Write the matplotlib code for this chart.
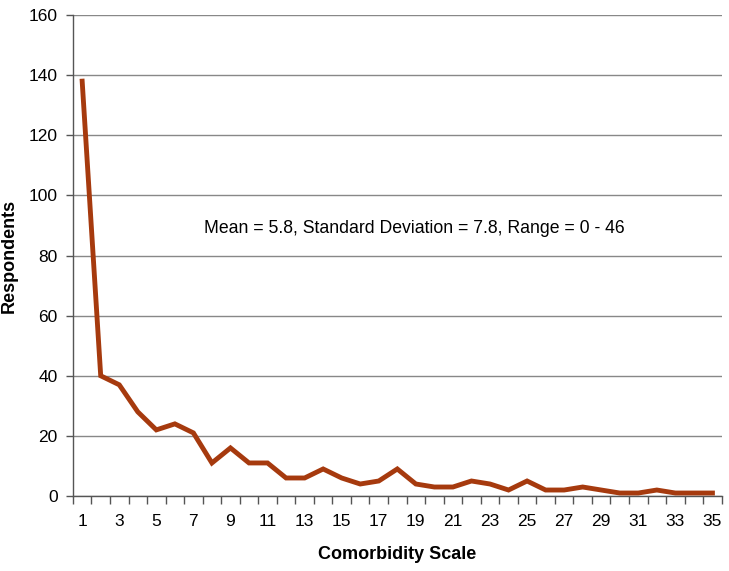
import matplotlib
matplotlib.use("Agg")
import matplotlib.pyplot as plt
import numpy as np

categories = list(range(1, 36))
respondents = [138, 40, 37, 28, 22, 24, 21, 11, 16, 11, 11, 6, 6, 9, 6, 4, 5, 9,
               4, 3, 3, 5, 4, 2, 5, 2, 2, 3, 2, 1, 1, 2, 1, 1, 1]
y_ticks = [0, 20, 40, 60, 80, 100, 120, 140, 160]
x_labels = [str(c) for c in categories if c % 2 == 1]
annotation = "Mean = 5.8, Standard Deviation = 7.8, Range = 0 - 46"

plt.rcParams['font.family'] = ['Liberation Sans', 'DejaVu Sans']

fig = plt.figure(figsize=(7.29, 5.71), dpi=100)
ax = fig.add_axes([0.100, 0.1313, 0.890, 0.8424])

ax.plot(categories, respondents, color='#A63A0E', linewidth=3.5, solid_joinstyle='miter', zorder=3)

ax.set_xlim(0.5, 35.5)
ax.set_ylim(0, 160)
ax.set_yticks(y_ticks)
ax.yaxis.grid(True, color='#888888', linewidth=1.0)
ax.set_axisbelow(True)

odd = [c for c in categories if c % 2 == 1]
ax.set_xticks(odd)
ax.set_xticklabels(x_labels, fontsize=12.5)
ax.tick_params(axis='x', which='major', length=0, pad=13)
ax.set_xticks(np.arange(0.5, 36.0, 1.0), minor=True)
ax.tick_params(axis='x', which='minor', length=6, direction='out', color='#555555', width=1)
ax.tick_params(axis='y', length=5, direction='out', color='#555555', width=1, labelsize=12.5, pad=6)

for s in ['top', 'right']:
    ax.spines[s].set_visible(False)
for s in ['left', 'bottom']:
    ax.spines[s].set_color('#555555')
    ax.spines[s].set_linewidth(1)

ax.set_ylabel('Respondents', fontsize=13, fontweight='bold', labelpad=8)
ax.set_xlabel('Comorbidity Scale', fontsize=13, fontweight='bold', labelpad=12)

ax.text(18.9, 89, annotation, fontsize=12.7, ha='center', va='center')

fig.savefig('out.png', dpi=100)
